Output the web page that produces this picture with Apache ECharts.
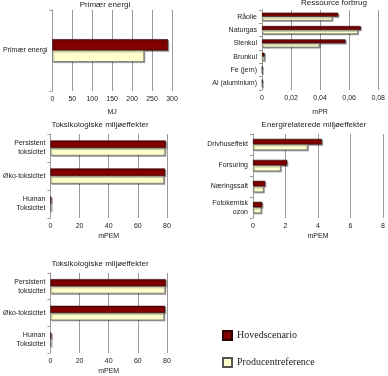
<!DOCTYPE html>
<html>
<head>
<meta charset="utf-8">
<script src="https://cdn.jsdelivr.net/npm/echarts@6/dist/echarts.min.js"></script>
<style>
  html, body { margin: 0; padding: 0; background: #fff; }
  #chart { width: 388px; height: 376px; }
</style>
</head>
<body>
<div id="chart"></div>
<script>
// data
const energyCats = ['Primær energi']
const energyMain = [290]
const energyRef = [230]

const resCats = ['Råolie', 'Naturgas', 'Stenkul', 'Brunkul', 'Fe (jern)', 'Al (aluminium)']
const resMain = [0.0525, 0.068, 0.0575, 0.0018, 0.0002, 0.0003]
const resRef = [0.0484, 0.066, 0.0395, 0.0018, 0.0001, 0.0002]

const toxCats = ['Persistent\ntoksicitet', 'Øko-toksicitet', 'Human\nToksicitet']
const toxMain = [79.2, 78.7, 0.7]
const toxRef = [78.7, 78.0, 0.5]

const enerCats = ['Drivhuseffekt', 'Forsuring', 'Næringssalt', 'Fotokemisk\nozon']
const enerMain = [4.24, 2.1, 0.75, 0.57]
const enerRef = [3.36, 1.7, 0.65, 0.51]

const mainName = 'Hovedscenario'
const refName = 'Producentreference'

const font = 'Liberation Sans, Arial, sans-serif'
const gridColor = '#9a9a9a'

const grids = [
  { left: 47, top: 10, width: 125, height: 81 },
  { left: 262, top: 10, width: 117, height: 80 },
  { left: 43, top: 134, width: 124, height: 84 },
  { left: 253, top: 134, width: 132, height: 84 },
  { left: 43, top: 273, width: 124, height: 84 }
]

const valueAxes = [
  { min: 0, max: 300, interval: 50, name: 'MJ', gap: 18 },
  { min: 0, max: 0.08, interval: 0.02, name: 'mPR', gap: 19, comma: true },
  { min: 0, max: 80, interval: 20, name: 'mPEM', gap: 15 },
  { min: 0, max: 8, interval: 2, name: 'mPEM', gap: 15 },
  { min: 0, max: 80, interval: 20, name: 'mPEM', gap: 15 }
]

const catList = [energyCats, resCats, toxCats, enerCats, toxCats]
const mainList = [energyMain, resMain, toxMain, enerMain, toxMain]
const refList = [energyRef, resRef, toxRef, enerRef, toxRef]
const gaps = ['72%', '40%', '46%', '46%', '46%']

const titles = [
  { text: 'Primær energi', x: 105, y: 1 },
  { text: 'Ressource forbrug', x: 334, y: -1 },
  { text: 'Toksikologiske miljøeffekter', x: 100, y: 121 },
  { text: 'Energirelaterede miljøeffekter', x: 314, y: 121 },
  { text: 'Toksikologiske miljøeffekter', x: 100, y: 260 }
]

const xAxis = valueAxes.map((a, i) => ({
  type: 'value',
  gridIndex: i,
  min: a.min,
  max: a.max,
  interval: a.interval,
  name: a.name,
  nameLocation: 'middle',
  nameGap: a.gap,
  nameTextStyle: { fontFamily: font, fontSize: 7, color: '#222' },
  axisLine: { show: false },
  axisTick: { show: false },
  axisLabel: {
    fontFamily: font, fontSize: 7, color: '#222', margin: 5,
    formatter: v => a.comma ? String(+v.toFixed(2)).replace('.', ',') : String(v)
  },
  splitLine: { show: true, lineStyle: { color: gridColor, width: 1 } }
}))

const yAxis = catList.map((c, i) => ({
  type: 'category',
  gridIndex: i,
  data: c,
  inverse: true,
  axisLine: { show: true, lineStyle: { color: gridColor } },
  axisTick: { show: true, length: 3, lineStyle: { color: gridColor } },
  axisLabel: { fontFamily: font, fontSize: 7, color: '#222', margin: 5, lineHeight: 9 },
  splitLine: { show: false }
}))

const series = []
catList.forEach((c, i) => {
  series.push({
    name: mainName,
    type: 'bar',
    xAxisIndex: i,
    yAxisIndex: i,
    data: mainList[i],
    barGap: '0%',
    barCategoryGap: gaps[i],
    itemStyle: {
      color: '#800000', borderColor: '#2a0000', borderWidth: 0.6,
      shadowColor: 'rgba(0,0,0,0.35)', shadowOffsetX: 1.2, shadowOffsetY: 1.2
    },
    emphasis: { disabled: true }
  })
  series.push({
    name: refName,
    type: 'bar',
    xAxisIndex: i,
    yAxisIndex: i,
    data: refList[i],
    barGap: '0%',
    barCategoryGap: gaps[i],
    itemStyle: {
      color: '#ffffcc', borderColor: '#555', borderWidth: 0.6,
      shadowColor: 'rgba(0,0,0,0.35)', shadowOffsetX: 1.2, shadowOffsetY: 1.2
    },
    emphasis: { disabled: true }
  })
})

const legendText = { fontFamily: 'Liberation Serif, Times New Roman, serif', fontSize: 10, color: '#222' }
const legendBase = { left: 222, itemWidth: 9, itemHeight: 9, icon: 'rect', padding: 0, textStyle: legendText }

const chart = echarts.init(document.getElementById('chart'))
chart.setOption({
  animation: false,
  title: titles.map(t => ({
    text: t.text,
    left: t.x,
    top: t.y,
    padding: 0,
    textAlign: 'center',
    textStyle: { fontFamily: font, fontSize: 8, fontWeight: 'normal', color: '#222' }
  })),
  grid: grids,
  xAxis: xAxis,
  yAxis: yAxis,
  legend: [
    Object.assign({ data: [mainName], top: 330 }, legendBase),
    Object.assign({ data: [refName], top: 357 }, legendBase)
  ],
  series: series
})
</script>
</body>
</html>
